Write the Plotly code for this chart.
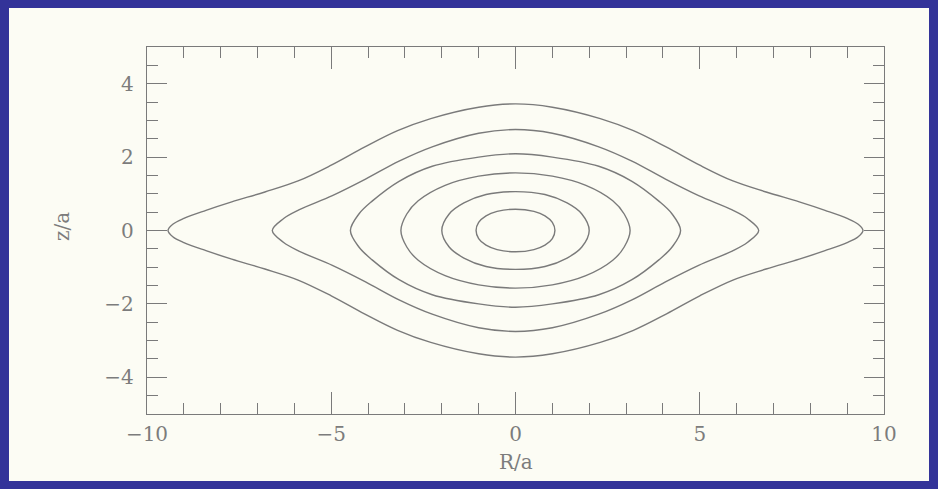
import plotly.graph_objects as go

# Iso-density contours in the meridional plane, one quadrant each (R >= 0, z >= 0);
# the model is symmetric in R and z, so each quadrant is reflected to close the curve.
R_1 = [0.0, 0.5, 0.8, 1.0, 1.07]
Z_1 = [0.58, 0.52, 0.40, 0.22, 0.0]

R_2 = [0.0, 0.8, 1.4, 1.8, 2.0]
Z_2 = [1.06, 0.98, 0.75, 0.45, 0.0]

R_3 = [0.0, 1.0, 1.91, 2.64, 2.95, 3.11]
Z_3 = [1.57, 1.48, 1.23, 0.81, 0.45, 0.0]

R_4 = [0.0, 1.0, 2.26, 3.16, 3.89, 4.25, 4.48]
Z_4 = [2.09, 2.0, 1.75, 1.34, 0.80, 0.45, 0.0]

R_5 = [0.0, 1.0, 2.26, 3.16, 4.07, 4.97, 5.88, 6.3, 6.6]
Z_5 = [2.75, 2.65, 2.28, 1.89, 1.40, 0.95, 0.56, 0.32, 0.0]

R_6 = [0.0, 1.0, 2.3, 3.2, 4.1, 5.0, 5.9, 6.8, 7.7, 8.4, 9.0, 9.3, 9.43]
Z_6 = [3.45, 3.36, 3.05, 2.72, 2.27, 1.78, 1.35, 1.05, 0.78, 0.55, 0.33, 0.17, 0.0]

contours = [(R_1, Z_1), (R_2, Z_2), (R_3, Z_3), (R_4, Z_4), (R_5, Z_5), (R_6, Z_6)]

X_TICKS = [-10, -5, 0, 5, 10]
Y_TICKS = [-4, -2, 0, 2, 4]

INK = "#7a7a7a"
TEXT = "#7c7c7c"
CREAM = "#fcfcf4"
FRAME = "#333399"
FONT = "DejaVu Serif, Liberation Serif, serif"


def closed_loop(r, z):
    """Walk the quadrant round all four quadrants, starting and ending at the left tip."""
    xs, ys = [], []
    # upper-left: from left tip to top
    for ri, zi in zip(reversed(r), reversed(z)):
        xs.append(-ri); ys.append(zi)
    # upper-right: top to right tip
    for ri, zi in list(zip(r, z))[1:]:
        xs.append(ri); ys.append(zi)
    # lower-right: right tip to bottom
    for ri, zi in list(zip(reversed(r), reversed(z)))[1:]:
        xs.append(ri); ys.append(-zi)
    # lower-left: bottom back to left tip
    for ri, zi in list(zip(r, z))[1:]:
        xs.append(-ri); ys.append(-zi)
    return xs, ys


fig = go.Figure()
for r, z in contours:
    xs, ys = closed_loop(r, z)
    fig.add_trace(go.Scatter(
        x=xs, y=ys, mode="lines",
        line=dict(color=INK, width=1.4, shape="spline", smoothing=1.0),
        hoverinfo="skip", showlegend=False,
    ))

# plot-area pixel box inside the 938x489 page
L, R, T, B = 147, 884, 47, 414
W, H = R - L, B - T


def px(xp):
    return (xp - L) / W


def py(yp):
    return (B - yp) / H


fig.add_shape(type="rect", xref="paper", yref="paper",
              x0=px(9), x1=px(929), y0=py(481), y1=py(8),
              fillcolor=CREAM, line=dict(width=0), layer="below")

axis_common = dict(
    showgrid=False, zeroline=False, showline=True, linecolor=INK, linewidth=1.4,
    mirror="allticks", ticks="inside", tickcolor=INK, tickwidth=1.2,
    tickfont=dict(family=FONT, size=20, color=TEXT),
)

fig.update_xaxes(
    range=[-10, 10], tickvals=X_TICKS, ticktext=["\u221210", "\u22125", "0", "5", "10"],
    ticklen=22, ticklabelstandoff=2,
    minor=dict(dtick=1, tick0=0, ticklen=11, ticks="inside", tickcolor=INK, tickwidth=1.2),
    **axis_common,
)
fig.update_yaxes(
    range=[-5, 5], tickvals=Y_TICKS, ticktext=["\u22124", "\u22122", "0", "2", "4"],
    ticklen=20, ticklabelstandoff=8,
    minor=dict(dtick=0.5, tick0=0, ticklen=11, ticks="inside", tickcolor=INK, tickwidth=1.2),
    **axis_common,
)

fig.add_annotation(text="R/a", xref="paper", yref="paper", x=0.5, y=py(462),
                   xanchor="center", yanchor="middle",
                   showarrow=False, font=dict(family=FONT, size=20, color=TEXT))
fig.add_annotation(text="z/a", xref="paper", yref="paper", x=px(62), y=py(227),
                   xanchor="center", yanchor="middle",
                   textangle=-90, showarrow=False,
                   font=dict(family=FONT, size=20, color=TEXT))

fig.update_layout(
    width=938, height=489,
    margin=dict(l=L, r=938 - R, t=T, b=489 - B),
    paper_bgcolor=FRAME, plot_bgcolor=CREAM,
)

fig.write_html("out.html")
